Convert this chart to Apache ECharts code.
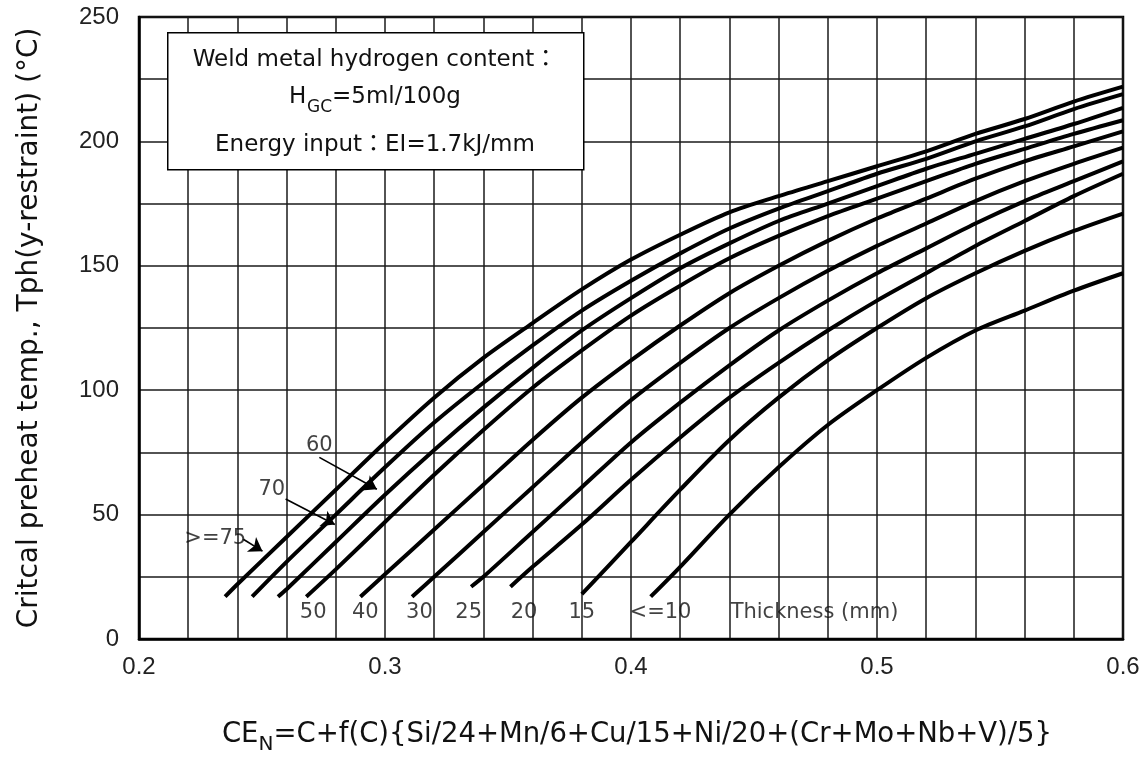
<!DOCTYPE html>
<html><head><meta charset="utf-8">
<script src="https://cdn.jsdelivr.net/npm/echarts@6/dist/echarts.min.js"></script>
<style>html,body{margin:0;padding:0;background:#fff}#c{width:1145px;height:760px}</style>
</head><body><div id="c"></div>
<script>
// Curve names (plate thickness, mm)
const thicknessNames = ['>=75','70','60','50','40','30','25','20','15','<=10'];
// Series values: [CEN, critical preheat temperature °C]
const t75 = [[0.235,17],[0.24,22],[0.26,41],[0.28,60],[0.30,79],[0.32,97],[0.34,113],[0.36,127],[0.38,140.5],[0.40,152.5],[0.42,162.5],[0.44,171.5],[0.46,178],[0.48,184],[0.50,190],[0.52,196],[0.54,203],[0.56,209],[0.58,216],[0.60,222]];
const t70 = [[0.246,17],[0.26,31],[0.28,50],[0.30,69],[0.32,87],[0.34,103],[0.36,118],[0.38,132],[0.40,144],[0.42,155],[0.44,165],[0.46,173],[0.48,180],[0.50,187],[0.52,193],[0.54,200],[0.56,206],[0.58,213],[0.60,219]];
const t60 = [[0.2565,17],[0.26,20],[0.28,39],[0.30,58],[0.32,76],[0.34,93],[0.36,109],[0.38,124],[0.40,137],[0.42,149],[0.44,159],[0.46,168],[0.48,175],[0.50,182],[0.52,189],[0.54,195],[0.56,201],[0.58,207],[0.60,213.5]];
const t50 = [[0.268,17],[0.28,28],[0.30,47],[0.32,66],[0.34,84],[0.36,101],[0.38,116],[0.40,130],[0.42,142],[0.44,153],[0.46,162],[0.48,170],[0.50,177],[0.52,184],[0.54,191],[0.56,197],[0.58,203],[0.60,208.5]];
const t40 = [[0.290,17],[0.30,26],[0.32,44],[0.34,62],[0.36,80],[0.38,97],[0.40,112],[0.42,126],[0.44,139],[0.46,150],[0.48,160],[0.50,169],[0.52,177],[0.54,185],[0.56,192],[0.58,198],[0.60,204]];
const t30 = [[0.311,17],[0.32,25],[0.34,43],[0.36,61],[0.38,79],[0.40,96],[0.42,111],[0.44,125],[0.46,137],[0.48,148],[0.50,158],[0.52,167],[0.54,176],[0.56,184],[0.58,191],[0.60,197.5]];
const t25 = [[0.335,21],[0.34,25],[0.36,43],[0.38,61],[0.40,79],[0.42,95],[0.44,110],[0.46,124],[0.48,136],[0.50,147],[0.52,157],[0.54,167],[0.56,176],[0.58,184],[0.60,192]];
const t20 = [[0.351,21],[0.36,29],[0.38,46],[0.40,64],[0.42,81],[0.44,97],[0.46,111],[0.48,124],[0.50,136],[0.52,147],[0.54,158],[0.56,168],[0.58,178],[0.60,187]];
const t15 = [[0.38,18],[0.40,39],[0.42,60],[0.44,80],[0.46,97],[0.48,112],[0.50,125],[0.52,137],[0.54,147],[0.56,156],[0.58,164],[0.60,171]];
const t10 = [[0.408,17],[0.42,29],[0.44,50],[0.46,69],[0.48,86],[0.50,100],[0.52,113],[0.54,124],[0.56,132],[0.58,140],[0.60,147]];
const curves = [t75,t70,t60,t50,t40,t30,t25,t20,t15,t10];

// Annotation texts and anchors (data coordinates)
const bottomLabels = ['50','40','30','25','20','15','<=10','Thickness (mm)'];
const bottomLabelX = [0.2708,0.292,0.314,0.334,0.3565,0.38,0.412,0.4746];
const bottomLabelY = 10.8;
const upperLabels = ['>=75','70','60'];
const upperLabelXY = [[0.231,40.2],[0.254,60.2],[0.2733,77.7]];
const arrows = [[[0.2424,40.1],[0.2502,35.3]],[[0.2596,56.3],[0.2796,46.0]],[[0.2733,73.0],[0.2967,60.2]]];

// Axis ticks
const xMin = 0.2, xMax = 0.6, xStep = 0.02;
const yMin = 0, yMax = 250, yStep = 25;

const chart = echarts.init(document.getElementById('c'), null, {renderer:'canvas'});
const black = '#000';
const series = curves.map((d,i)=>({
  name: thicknessNames[i], type:'line', data:d, smooth:0.3,
  symbol:'none', lineStyle:{color:black,width:4}, z:5, silent:true
}));
const labelData = bottomLabels.map((t,i)=>[bottomLabelX[i],bottomLabelY,t])
  .concat(upperLabels.map((t,i)=>[upperLabelXY[i][0],upperLabelXY[i][1],t]));
series.push({
  type:'scatter', data:labelData, symbolSize:1, itemStyle:{color:'transparent'}, z:6, silent:true,
  label:{show:true, position:'inside', formatter:p=>p.value[2], color:'#111',
    fontFamily:'DejaVu Sans', fontSize:21},
  markLine:{silent:true, symbol:['none','arrow'], symbolSize:13, animation:false,
    lineStyle:{color:black,width:1.6,type:'solid'}, label:{show:false},
    data: arrows.map(a=>[{coord:a[0]},{coord:a[1]}])}
});

const boxFont = '23px "DejaVu Sans","Noto Sans CJK JP"';
const option = {
  animation:false,
  backgroundColor:'#fff',
  grid:{left:139,right:22,top:17,bottom:119,show:true,borderColor:black,borderWidth:2.5},
  xAxis:{type:'value',min:xMin,max:xMax,interval:xStep,
    axisLine:{show:true,lineStyle:{color:black,width:2.5}},axisTick:{show:false},
    splitLine:{show:true,lineStyle:{color:'#1a1a1a',width:1.5}},
    axisLabel:{margin:16,color:'#222',fontFamily:'Liberation Sans',fontSize:24,
      formatter:v=>Math.round(v*100)%10===0?v.toFixed(1):''},
    name:'CE{sub|N}=C+f(C){Si/24+Mn/6+Cu/15+Ni/20+(Cr+Mo+Nb+V)/5}',
    nameLocation:'middle',nameGap:76,
    nameTextStyle:{color:'#111',fontFamily:'DejaVu Sans',fontSize:27.5,lineHeight:40,padding:[0,0,0,12],
      rich:{sub:{fontFamily:'DejaVu Sans',fontSize:20,color:'#111',verticalAlign:'bottom',lineHeight:22}}}
  },
  yAxis:{type:'value',min:yMin,max:yMax,interval:yStep,
    axisLine:{show:true,lineStyle:{color:black,width:2.5}},axisTick:{show:false},
    splitLine:{show:true,lineStyle:{color:'#1a1a1a',width:1.5}},
    axisLabel:{margin:20,color:'#222',fontFamily:'Liberation Sans',fontSize:24,
      formatter:v=>v%50===0?String(v):''},
    name:'Critcal preheat temp., Tph(y-restraint) (°C)',
    nameLocation:'middle',nameGap:95,
    nameTextStyle:{color:'#111',fontFamily:'DejaVu Sans',fontSize:28}
  },
  graphic:[
    {type:'rect',left:167,top:32,z:100,zlevel:1,shape:{x:0,y:0,width:416,height:137},style:{fill:'#fff',stroke:black,lineWidth:1.5}},
    {type:'text',x:375,y:60,z:101,zlevel:1,style:{text:'Weld metal hydrogen content\uff1a',fill:'#111',font:boxFont,align:'center',verticalAlign:'middle'}},
    {type:'text',x:289,y:97,z:101,zlevel:1,style:{text:'H',fill:'#111',font:boxFont,align:'left',verticalAlign:'middle'}},
    {type:'text',x:307,y:108,z:101,zlevel:1,style:{text:'GC',fill:'#111',font:'17px "DejaVu Sans"',align:'left',verticalAlign:'middle'}},
    {type:'text',x:332,y:97,z:101,zlevel:1,style:{text:'=5ml/100g',fill:'#111',font:boxFont,align:'left',verticalAlign:'middle'}},
    {type:'text',x:375,y:145,z:101,zlevel:1,style:{text:'Energy input\uff1aEI=1.7kJ/mm',fill:'#111',font:boxFont,align:'center',verticalAlign:'middle'}}
  ],
  series
};
chart.setOption(option);
</script></body></html>
